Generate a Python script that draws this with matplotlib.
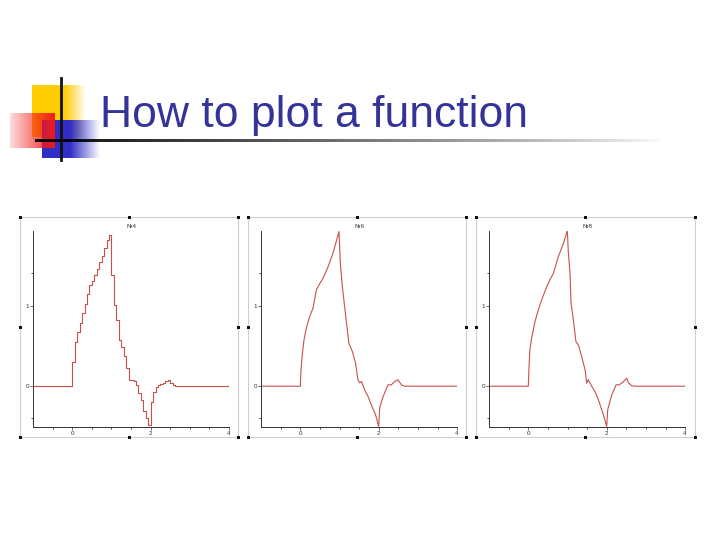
import numpy as np
import matplotlib.pyplot as plt
from matplotlib.patches import Rectangle

W, H = 720, 540

title = "How to plot a function"
panel_titles = ["Nr4", "Nr6", "Nr8"]

# panel 1: step approximation on a 1/16 grid over [0, 3]
step_vals = [0.305, 0.55, 0.67, 0.79, 0.905, 1.025, 1.15, 1.26,
             1.31, 1.38, 1.46, 1.54, 1.61, 1.71, 1.81, 1.88,
             1.38, 1.01, 0.82, 0.57, 0.49, 0.37, 0.22, 0.08,
             0.08, 0.06, 0.02, -0.09, -0.17, -0.31, -0.40, -0.48,
             -0.20, -0.07, -0.01, 0.02, 0.025, 0.035, 0.06, 0.08,
             0.035, 0.02, 0.0, 0.0, 0.0, 0.0, 0.0, 0.0]

# panel 2: piecewise linear
x2 = [-1, 0, 0.017, 0.05, 0.094, 0.153, 0.238, 0.323, 0.408, 0.45, 0.579,
      0.706, 0.834, 0.987, 1.02, 1.064, 1.13, 1.19, 1.24, 1.33, 1.41, 1.47,
      1.515, 1.56, 1.64, 1.73, 1.81, 1.92, 2.0, 2.025, 2.11, 2.24, 2.32,
      2.41, 2.49, 2.58, 2.66, 4]
y2 = [0, 0, 0.20, 0.39, 0.574, 0.72, 0.864, 0.967, 1.19, 1.235, 1.34,
      1.48, 1.65, 1.92, 1.545, 1.277, 0.99, 0.74, 0.53, 0.43, 0.285, 0.08,
      0.04, 0.06, -0.045, -0.13, -0.23, -0.355, -0.50, -0.27, -0.13, 0.017, 0.017,
      0.058, 0.08, 0.017, 0.0, 0]

# panel 3: finer piecewise linear
x3 = [-1, 0, 0.02, 0.04, 0.085, 0.17, 0.255, 0.34, 0.47, 0.55, 0.64, 0.766,
      0.894, 0.996, 1.02, 1.064, 1.09, 1.15, 1.217, 1.28, 1.36, 1.45, 1.49,
      1.53, 1.617, 1.70, 1.79, 1.915, 2.0, 2.026, 2.13, 2.24, 2.32, 2.43,
      2.51, 2.55, 2.64, 2.77, 4]
y3 = [0, 0, 0.25, 0.45, 0.595, 0.80, 0.946, 1.07, 1.235, 1.32, 1.40, 1.607,
      1.77, 1.93, 1.67, 1.40, 1.03, 0.82, 0.55, 0.51, 0.37, 0.20, 0.037,
      0.08, 0.0, -0.066, -0.17, -0.355, -0.50, -0.29, -0.107, 0.017, 0.017, 0.058,
      0.10, 0.045, 0.004, 0.0, 0]

fig = plt.figure(figsize=(7.2, 5.4), dpi=100)
plt.rcParams['font.family'] = ['Liberation Sans', 'DejaVu Sans']

# background layer in pixel coordinates
bg = fig.add_axes([0, 0, 1, 1])
bg.set_xlim(0, W)
bg.set_ylim(H, 0)
bg.axis('off')

def grad_rect(ax, x0, x1, y0, y1, rgb, fade_from, fade_to, z):
    # horizontal fade between two alpha levels
    n = 128
    img = np.zeros((2, n, 4))
    img[..., :3] = rgb
    img[..., 3] = np.linspace(fade_from, fade_to, n)
    ax.imshow(img, extent=(x0, x1, y1, y0), aspect='auto', zorder=z,
              interpolation='bilinear')

# yellow square, solid then fading right
bg.add_patch(Rectangle((32, 85), 32, 52, color='#ffcc00', lw=0, zorder=1))
grad_rect(bg, 64, 86, 85, 137, (1.0, 0.8, 0.0), 1, 0, 1)
# blue square
bg.add_patch(Rectangle((42, 120), 28, 38, color='#2f2fc8', lw=0, zorder=2))
grad_rect(bg, 70, 100, 120, 158, (0.18, 0.18, 0.78), 1, 0, 2)
# red rectangle, light at left, strong at right
grad_rect(bg, 10, 55, 113, 148, (0.95, 0.1, 0.1), 0.15, 1, 3)
# vertical black bar
bg.plot([61, 61], [78, 160], color='#111111', lw=2, zorder=4)
# underline fading to the right
line_img = np.zeros((2, 256, 4))
line_img[..., 3] = np.linspace(0.95, 0.0, 256) ** 0.8
bg.imshow(line_img, extent=(35, 665, 142.2, 139.8), aspect='auto', zorder=4,
          interpolation='bilinear')

bg.text(100, 127, title, fontsize=32, color='#333399', ha='left',
        va='baseline', zorder=5)

# panel frames and handles
frames = [(20, 238), (248, 466), (476, 695)]
for fx0, fx1 in frames:
    bg.add_patch(Rectangle((fx0, 217), fx1 - fx0, 220, fill=False,
                           ec='#cfcfcf', lw=0.8, zorder=1))
    for hx in (fx0, (fx0 + fx1) / 2, fx1):
        for hy in (217, 327, 437):
            if hx == (fx0 + fx1) / 2 and hy == 327:
                continue
            bg.add_patch(Rectangle((hx - 1.5, hy - 1.5), 3, 3,
                                   color='#111111', lw=0, zorder=6))

# plot axes, left edge is x=-1
zero_px = [72.3, 300.3, 528.3]
unit = 39.2
ax_top, ax_bot = 230.7, 427.3
line_color = '#c8504a'

for i, x0 in enumerate(zero_px):
    left = x0 - unit
    ax = fig.add_axes([left / W, 1 - ax_bot / H, 5 * unit / W,
                       (ax_bot - ax_top) / H])
    ax.patch.set_alpha(0)
    if i == 0:
        xs = np.concatenate([[-1], np.arange(len(step_vals) + 1) / 16, [4]])
        ys = np.concatenate([[0], step_vals, [0, 0]])
        ax.step(xs, ys, where='post', color=line_color, lw=0.8)
    elif i == 1:
        ax.plot(x2, y2, color=line_color, lw=0.8)
    else:
        ax.plot(x3, y3, color=line_color, lw=0.8)
    ax.set_xlim(-1, 4)
    ax.set_ylim(-0.51, 1.93)
    for s in ('top', 'right'):
        ax.spines[s].set_visible(False)
    for s in ('left', 'bottom'):
        ax.spines[s].set_color('#333333')
        ax.spines[s].set_linewidth(0.7)
    ax.set_xticks([0, 2, 4])
    ax.set_xticks(np.arange(-0.5, 4, 0.5), minor=True)
    ax.set_yticks([0, 1])
    ax.set_yticks([-0.4, 1.4], minor=True)
    ax.tick_params(labelsize=4.5, length=2, width=0.5, pad=1,
                   colors='#333333')
    ax.tick_params(which='minor', length=1.5, width=0.5)
    ax.set_title(panel_titles[i], fontsize=4.5, pad=2, color='#333333')

fig.savefig('out.png', dpi=100, facecolor='white')
